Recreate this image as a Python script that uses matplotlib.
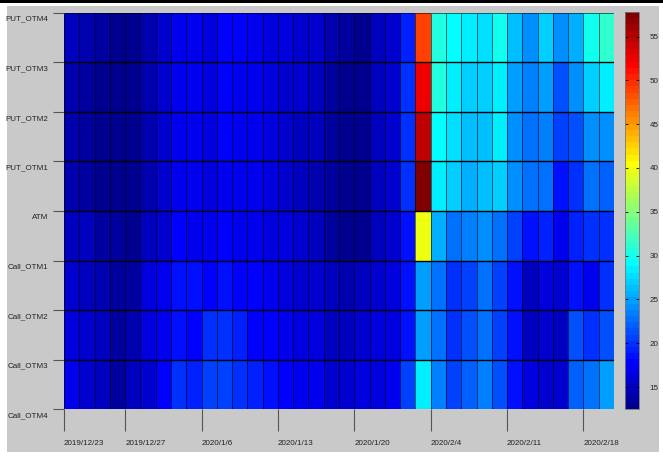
import matplotlib
matplotlib.use("Agg")
import matplotlib.pyplot as plt
import numpy as np
from matplotlib.colors import ListedColormap
from matplotlib.patches import Rectangle
from matplotlib.transforms import ScaledTranslation

# Trading days (the last date is the closing grid edge, as in pcolor)
dates = [
    "2019/12/23", "2019/12/24", "2019/12/25", "2019/12/26", "2019/12/27",
    "2019/12/30", "2019/12/31", "2020/1/2", "2020/1/3", "2020/1/6",
    "2020/1/7", "2020/1/8", "2020/1/9", "2020/1/10", "2020/1/13",
    "2020/1/14", "2020/1/15", "2020/1/16", "2020/1/17", "2020/1/20",
    "2020/1/21", "2020/1/22", "2020/1/23", "2020/2/3", "2020/2/4",
    "2020/2/5", "2020/2/6", "2020/2/7", "2020/2/10", "2020/2/11",
    "2020/2/12", "2020/2/13", "2020/2/14", "2020/2/17", "2020/2/18",
    "2020/2/19", "2020/2/20",
]
tick_dates = ["2019/12/23", "2019/12/27", "2020/1/6", "2020/1/13",
              "2020/1/20", "2020/2/4", "2020/2/11", "2020/2/18"]

levels = ["Call_OTM4", "Call_OTM3", "Call_OTM2", "Call_OTM1", "ATM",
          "PUT_OTM1", "PUT_OTM2", "PUT_OTM3", "PUT_OTM4"]

# Implied volatility (%) per moneyness level and trading day
call_otm4 = [16.8, 15.4, 14.7, 13.9, 14.7, 15.7, 17.5, 19.9, 19.2, 20.6, 20.6, 19.9,
             19.2, 18.2, 17.5, 17.1, 16.8, 15.7, 15.4, 16.1, 16.4, 16.8, 20.6, 28.6,
             23.5, 20.6, 22.1, 23.5, 21.3, 18.5, 16.4, 15.7, 15.4, 22.1, 22.8, 24.6]
call_otm3 = [16.1, 15.4, 14.7, 13.9, 14.3, 16.1, 17.1, 18.5, 17.9, 19.9, 19.9, 19.2,
             17.9, 17.5, 17.1, 16.4, 16.1, 15.0, 14.7, 15.4, 16.1, 16.4, 18.5, 24.9,
             22.8, 19.9, 21.3, 22.8, 20.6, 18.5, 15.0, 15.4, 14.7, 21.3, 19.9, 21.7]
call_otm2 = [15.7, 15.0, 14.3, 13.6, 13.9, 16.1, 17.1, 18.2, 18.5, 17.9, 18.2, 17.5,
             17.5, 16.8, 16.4, 15.7, 15.4, 15.0, 14.3, 14.7, 15.7, 16.1, 18.5, 24.9,
             22.8, 19.9, 20.6, 22.8, 20.3, 18.5, 15.0, 16.1, 15.4, 18.5, 17.1, 19.9]
call_otm1 = [15.0, 14.7, 13.9, 13.6, 13.2, 15.0, 15.7, 17.9, 17.1, 16.8, 17.5, 17.1,
             17.1, 16.4, 16.1, 15.4, 15.0, 13.9, 13.2, 12.9, 15.0, 15.7, 18.5, 40.0,
             25.6, 22.8, 23.5, 23.9, 22.8, 20.6, 18.2, 19.2, 16.8, 19.2, 19.9, 19.9]
atm = [14.3, 13.9, 13.2, 12.9, 12.6, 14.3, 15.4, 17.1, 16.8, 16.4, 17.1, 17.1,
       16.8, 16.1, 15.7, 15.0, 14.3, 13.6, 12.9, 12.6, 14.7, 15.4, 19.9, 57.6,
       28.1, 26.7, 25.6, 26.0, 27.0, 23.9, 22.8, 22.8, 18.5, 19.9, 23.1, 22.1]
put_otm1 = [14.3, 13.9, 13.2, 12.9, 12.6, 14.3, 15.4, 17.1, 16.8, 16.4, 17.5, 17.1,
            17.1, 16.4, 15.7, 15.0, 14.7, 13.6, 12.9, 12.6, 14.7, 15.4, 19.9, 54.6,
            29.1, 27.4, 26.3, 26.3, 28.1, 24.2, 22.8, 23.5, 20.6, 21.3, 24.2, 24.2]
put_otm2 = [14.3, 13.9, 13.2, 12.9, 12.7, 14.3, 15.4, 17.1, 16.8, 16.4, 17.5, 17.1,
            17.1, 16.4, 15.7, 15.4, 15.0, 13.9, 13.1, 12.9, 14.7, 15.4, 19.6, 52.5,
            30.2, 28.4, 27.0, 26.7, 28.4, 24.9, 23.5, 24.6, 21.3, 23.9, 27.0, 28.1]
put_otm3 = [14.7, 14.3, 13.4, 13.1, 12.7, 14.3, 15.4, 17.1, 16.8, 16.4, 17.9, 17.5,
            17.1, 16.4, 16.1, 15.4, 15.4, 14.3, 13.4, 13.2, 15.0, 15.4, 18.9, 49.3,
            30.9, 29.1, 28.1, 27.7, 29.5, 26.3, 24.2, 27.0, 24.0, 25.6, 29.5, 31.6]

vmin, vmax = 12.5, 57.8
cbar_ticks = [15, 20, 25, 30, 35, 40, 45, 50, 55]


def classic_jet(m=64):
    """The classic 64-step jet colormap (piecewise linear ramps)."""
    n = int(np.ceil(m / 4))
    u = np.concatenate([np.arange(1, n + 1) / n, np.ones(n - 1),
                        np.arange(n, 0, -1) / n])
    g = int(np.ceil(n / 2)) - (1 if m % 4 == 1 else 0) + np.arange(1, len(u) + 1)
    r = g + n
    b = g - n
    J = np.zeros((m, 3))
    for col, idx in ((0, r), (1, g), (2, b)):
        keep = (idx >= 1) & (idx <= m)
        J[idx[keep] - 1, col] = u[keep]
    return ListedColormap(J, name="classic_jet")


W, H = 663, 457
fig = plt.figure(figsize=(W / 100, H / 100), dpi=100, facecolor="white")

# Grey figure panel with a dark rule along the top
fig.patches.append(Rectangle((7 / W, 1 - 452 / H), (659 - 7) / W, (452 - 6) / H,
                             transform=fig.transFigure, facecolor="#c9c9c9",
                             edgecolor="none", zorder=-10))
fig.patches.append(Rectangle((0, 1 - 3 / H), 1, 3 / H, transform=fig.transFigure,
                             facecolor="black", edgecolor="none", zorder=-10))

font = ["Liberation Sans Narrow", "Liberation Sans", "DejaVu Sans"]
fsize = 5.8

ax = fig.add_axes([64 / W, 1 - 409.3 / H, 550 / W, 396.6 / H])
ax.set_facecolor("#c9c9c9")

C = np.array([call_otm4, call_otm3, call_otm2, call_otm1, atm,
              put_otm1, put_otm2, put_otm3])
x_edges = np.arange(len(dates))
y_edges = np.arange(len(levels))

mesh = ax.pcolormesh(x_edges, y_edges, C, cmap=classic_jet(64), vmin=vmin, vmax=vmax,
                     edgecolors=(0, 0, 0, 0.55), linewidth=0.5, shading="flat")
ax.hlines(y_edges[1:-1], x_edges[0], x_edges[-1], colors="black", linewidth=1.0)

ax.set_xlim(x_edges[0], x_edges[-1])
ax.set_ylim(y_edges[0], y_edges[-1])
for s in ax.spines.values():
    s.set_visible(False)

ax.set_xticks([dates.index(d) for d in tick_dates])
ax.set_xticklabels(tick_dates, fontfamily=font, fontsize=fsize, color="#222222")
for lbl in ax.get_xticklabels():
    lbl.set_horizontalalignment("left")
ax.set_yticks(y_edges)
ax.set_yticklabels(levels, fontfamily=font, fontsize=fsize, color="#222222")

ax.tick_params(axis="x", direction="out", length=16, width=0.8,
               color="#555555", pad=6)
ax.tick_params(axis="y", direction="out", length=8, width=0.8,
               color="#555555", pad=3)

# y labels sit a little below their tick marks
shift = ScaledTranslation(0, -0.055, fig.dpi_scale_trans)
for lbl in ax.get_yticklabels():
    lbl.set_transform(lbl.get_transform() + shift)

cax = fig.add_axes([624.5 / W, 1 - 409 / H, 14 / W, 397 / H])
cb = fig.colorbar(mesh, cax=cax, ticks=cbar_ticks)
cb.outline.set_edgecolor("#777777")
cb.outline.set_linewidth(0.6)
cax.tick_params(direction="in", length=2.5, width=0.6, color="black",
                left=True, right=True, labelsize=fsize, pad=8,
                labelcolor="#222222")
for lbl in cax.get_yticklabels():
    lbl.set_fontfamily(font)

fig.savefig("out.png", dpi=100, facecolor=fig.get_facecolor())
